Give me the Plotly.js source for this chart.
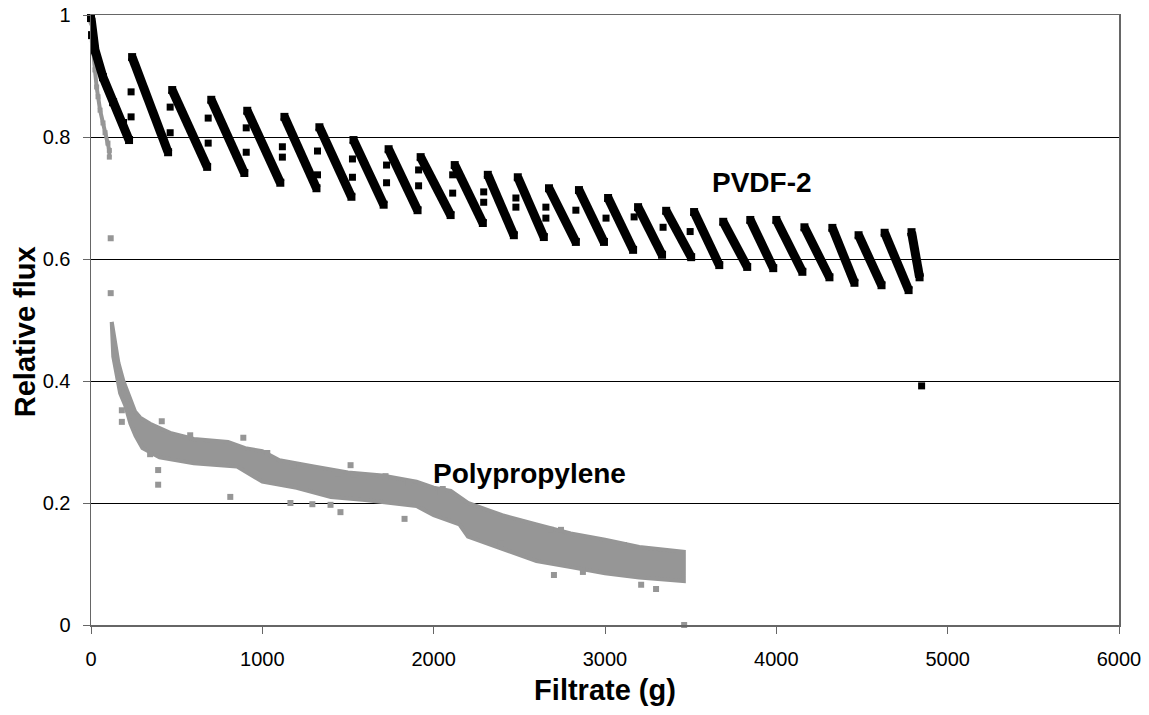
<!DOCTYPE html>
<html>
<head>
<meta charset="utf-8">
<script src="https://cdn.plot.ly/plotly-3.0.1.min.js"></script>
<style>html,body{margin:0;padding:0;background:#fff;}#chart{width:1149px;height:715px;}</style>
</head>
<body>
<div id="chart"></div>
<script>
// ---- PVDF-2 : each filtration cycle read as (filtrate g, relative flux) points ----
const pvdfCycleX = [
  [0, 6, 23, 70, 129, 187, 222],
  [240, 450], [474, 678], [702, 895], [912, 1105], [1129, 1316], [1333, 1520],
  [1532, 1708], [1737, 1906], [1924, 2099], [2123, 2287], [2316, 2468], [2491, 2643],
  [2673, 2830], [2848, 2994], [3018, 3164], [3193, 3333], [3357, 3503], [3520, 3667],
  [3690, 3830], [3848, 3982], [4000, 4152], [4164, 4310], [4327, 4456], [4480, 4614],
  [4632, 4772], [4789, 4836]
];
const pvdfCycleY = [
  [0.995, 0.967, 0.943, 0.898, 0.857, 0.823, 0.795],
  [0.931, 0.775], [0.877, 0.751], [0.861, 0.741], [0.843, 0.725], [0.833, 0.716], [0.816, 0.702],
  [0.795, 0.689], [0.780, 0.680], [0.767, 0.672], [0.754, 0.659], [0.738, 0.639], [0.734, 0.636],
  [0.716, 0.628], [0.713, 0.628], [0.700, 0.615], [0.685, 0.607], [0.679, 0.603], [0.677, 0.590],
  [0.661, 0.587], [0.664, 0.585], [0.664, 0.579], [0.652, 0.570], [0.651, 0.561], [0.639, 0.557],
  [0.643, 0.549], [0.644, 0.570]
];
// transition points between cycles + isolated last point
const pvdfLooseX = [234, 234, 462, 462, 684, 684, 906, 906, 1117, 1117, 1322, 1322, 1526, 1526,
  1725, 1725, 1912, 1912, 2111, 2111, 2292, 2292, 2480, 2480, 2655, 2655, 2830, 3006, 3170, 3339, 3497, 4848];
const pvdfLooseY = [0.874, 0.833, 0.849, 0.807, 0.831, 0.790, 0.815, 0.775, 0.784, 0.767, 0.777, 0.738, 0.764, 0.734,
  0.754, 0.725, 0.746, 0.720, 0.738, 0.708, 0.710, 0.693, 0.700, 0.685, 0.685, 0.667, 0.680, 0.667, 0.669, 0.652, 0.645, 0.392];

// ---- Polypropylene ----
// early steep decline
const ppEarlyX = [0, 4, 8, 13, 23, 33, 41, 53, 70, 82, 99, 107, 107];
const ppEarlyY = [0.99, 0.987, 0.959, 0.938, 0.910, 0.882, 0.866, 0.844, 0.823, 0.807, 0.790, 0.778, 0.767];
// dense band: upper and lower edges
const ppUpperX = [121, 135, 160, 189, 228, 257, 287, 345, 462, 600, 800, 900, 1000, 1100, 1300, 1500,
  1700, 1900, 2000, 2100, 2200, 2400, 2600, 2800, 3000, 3200, 3460];
const ppUpperY = [0.497, 0.470, 0.430, 0.400, 0.370, 0.350, 0.340, 0.330, 0.315, 0.305, 0.300, 0.290,
  0.285, 0.270, 0.260, 0.250, 0.245, 0.235, 0.225, 0.220, 0.200, 0.180, 0.165, 0.150, 0.140, 0.128, 0.120];
const ppLowerX = [121, 130, 140, 170, 200, 230, 260, 300, 400, 600, 850, 1000, 1200, 1400, 1600, 1900, 2000,
  2150, 2200, 2400, 2600, 2800, 3000, 3200, 3460];
const ppLowerY = [0.497, 0.440, 0.420, 0.380, 0.360, 0.330, 0.310, 0.290, 0.275, 0.265, 0.260, 0.235, 0.225,
  0.210, 0.205, 0.195, 0.180, 0.165, 0.145, 0.125, 0.105, 0.095, 0.085, 0.078, 0.072];
// scattered points
const ppLooseX = [115, 115, 180, 180, 413, 345, 392, 392, 579, 813, 889, 1029, 1164, 1181, 1292, 1398, 1444, 1456,
  1515, 1532, 1591, 1719, 1830, 1854, 2041, 2053, 2392, 2684, 2702, 2713, 2743, 2871, 3111, 3211, 3298, 3462];
const ppLooseY = [0.634, 0.544, 0.352, 0.333, 0.334, 0.28, 0.254, 0.23, 0.311, 0.21, 0.307, 0.282, 0.20, 0.262,
  0.198, 0.197, 0.249, 0.185, 0.262, 0.246, 0.243, 0.244, 0.174, 0.233, 0.218, 0.223, 0.134, 0.156, 0.082, 0.103,
  0.156, 0.087, 0.131, 0.066, 0.059, 0.0];

const xTicks = [0, 1000, 2000, 3000, 4000, 5000, 6000];
const yTicks = [0, 0.2, 0.4, 0.6, 0.8, 1];
const seriesNames = ['PVDF-2', 'Polypropylene'];
const xTitle = 'Filtrate (g)';
const yTitle = 'Relative flux';

const FONT = 'Liberation Sans, Arial, Helvetica, sans-serif';
const BLACK = '#000000';
const GREY = '#969696';

// join cycles with gaps
const cx = [], cy = [];
pvdfCycleX.forEach((arr, i) => { cx.push(...arr, null); cy.push(...pvdfCycleY[i], null); });

const polyX = ppUpperX.concat(ppLowerX.slice().reverse());
const polyY = ppUpperY.concat(ppLowerY.slice().reverse());

const traces = [
  { x: polyX, y: polyY, type: 'scatter', mode: 'lines', fill: 'toself', fillcolor: GREY,
    line: { color: GREY, width: 4 }, hoverinfo: 'skip', showlegend: false, name: seriesNames[1] },
  { x: ppEarlyX, y: ppEarlyY, type: 'scatter', mode: 'lines+markers', cliponaxis: false,
    line: { color: GREY, width: 4 }, marker: { symbol: 'square', size: 5, color: GREY }, showlegend: false, name: seriesNames[1] },
  { x: ppLooseX, y: ppLooseY, type: 'scatter', mode: 'markers', cliponaxis: false,
    marker: { symbol: 'square', size: 6, color: GREY }, showlegend: false, name: seriesNames[1] },
  { x: cx, y: cy, type: 'scatter', mode: 'lines+markers', cliponaxis: false, connectgaps: false,
    line: { color: BLACK, width: 9 }, marker: { symbol: 'square', size: 8, color: BLACK }, showlegend: false, name: seriesNames[0] },
  { x: pvdfLooseX, y: pvdfLooseY, type: 'scatter', mode: 'markers', cliponaxis: false,
    marker: { symbol: 'square', size: 7, color: BLACK }, showlegend: false, name: seriesNames[0] }
];

const layout = {
  width: 1149, height: 715,
  margin: { l: 91, r: 30, t: 15, b: 90, pad: 0 },
  paper_bgcolor: '#ffffff', plot_bgcolor: '#ffffff',
  showlegend: false,
  font: { family: FONT, color: '#000', size: 20 },
  xaxis: {
    range: [0, 6000], tickvals: xTicks, ticktext: xTicks.map(String),
    showgrid: false, zeroline: false,
    showline: true, linecolor: '#666666', linewidth: 1.5, mirror: true,
    ticks: 'outside', ticklen: 7, tickcolor: '#666666', tickwidth: 1,
    tickfont: { family: FONT, size: 20, color: '#000' }, ticklabelstandoff: 8,
    title: { text: xTitle, font: { family: FONT, size: 29, weight: 'bold', color: '#000' }, standoff: 11 }
  },
  yaxis: {
    range: [0, 1], tickvals: yTicks, ticktext: yTicks.map(String),
    showgrid: true, gridcolor: '#000000', gridwidth: 1, zeroline: false,
    showline: true, linecolor: '#666666', linewidth: 1.5, mirror: true,
    ticks: 'outside', ticklen: 7, tickcolor: '#666666', tickwidth: 1,
    tickfont: { family: FONT, size: 20, color: '#000' }, ticklabelstandoff: 8,
    title: { text: '' }
  },
  annotations: [
    { x: -0.0642, y: 0.48, xref: 'paper', yref: 'paper', text: yTitle, textangle: -90, showarrow: false,
      xanchor: 'center', yanchor: 'middle',
      font: { family: FONT, size: 29, weight: 'bold', color: '#000' } },
    { x: 3918, y: 0.726, xref: 'x', yref: 'y', text: seriesNames[0], showarrow: false,
      font: { family: FONT, size: 28, weight: 'bold', color: '#000' } },
    { x: 2561, y: 0.248, xref: 'x', yref: 'y', text: seriesNames[1], showarrow: false,
      font: { family: FONT, size: 28, weight: 'bold', color: '#000' } }
  ]
};

Plotly.newPlot('chart', traces, layout, { staticPlot: true, displayModeBar: false });
</script>
</body>
</html>
